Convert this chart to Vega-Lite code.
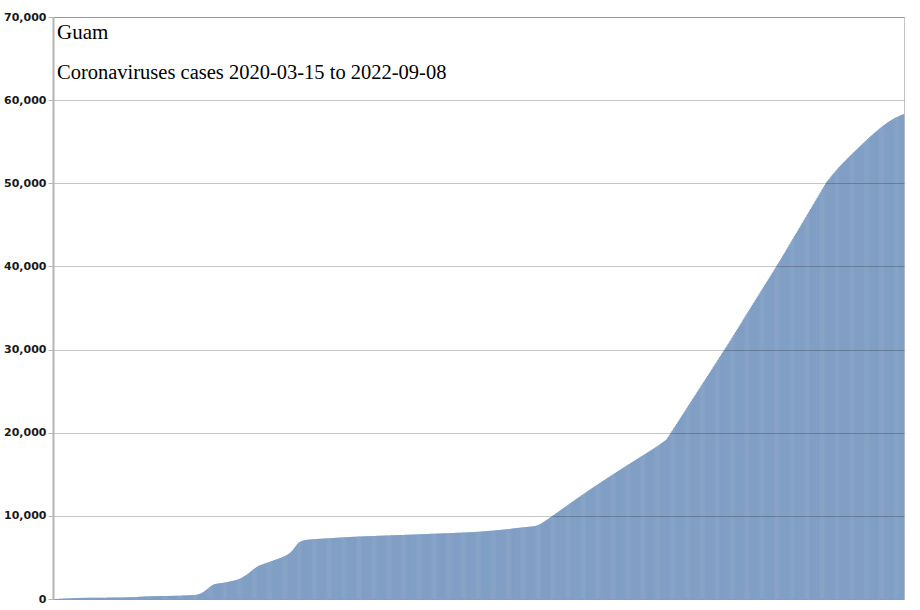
{
"$schema": "https://vega.github.io/schema/vega-lite/v6.json",
"width": 851,
"height": 582,
"autosize": {"type": "none"},
"padding": {"left": 53, "top": 17, "right": 16, "bottom": 11},
"background": "white",
"title": {"text": "Guam", "subtitle": "Coronaviruses cases 2020-03-15 to 2022-09-08", "anchor": "start", "frame": "group", "orient": "top", "offset": -72, "dx": 4, "font": "Liberation Serif", "fontSize": 21, "fontWeight": "normal", "color": "#000", "subtitleFont": "Liberation Serif", "subtitleFontSize": 20.5, "subtitleColor": "#000", "subtitlePadding": 20},
"data": {"values": [
{"d":0,"c":3},{"d":1,"c":5},{"d":2,"c":5},{"d":3,"c":12},{"d":4,"c":14},{"d":5,"c":15},{"d":6,"c":27},{"d":7,"c":29},{"d":8,"c":32},{"d":9,"c":37},
{"d":10,"c":45},{"d":11,"c":49},{"d":12,"c":51},{"d":13,"c":55},{"d":14,"c":56},{"d":15,"c":58},{"d":16,"c":69},{"d":17,"c":77},{"d":18,"c":82},{"d":19,"c":84},
{"d":20,"c":93},{"d":21,"c":110},{"d":22,"c":112},{"d":23,"c":113},{"d":24,"c":121},{"d":25,"c":122},{"d":26,"c":128},{"d":27,"c":130},{"d":28,"c":133},{"d":29,"c":133},
{"d":30,"c":135},{"d":31,"c":136},{"d":32,"c":136},{"d":33,"c":136},{"d":34,"c":137},{"d":35,"c":138},{"d":36,"c":141},{"d":37,"c":142},{"d":38,"c":145},{"d":39,"c":145},
{"d":40,"c":145},{"d":41,"c":145},{"d":42,"c":145},{"d":43,"c":148},{"d":44,"c":149},{"d":45,"c":149},{"d":46,"c":149},{"d":47,"c":150},{"d":48,"c":151},{"d":49,"c":151},
{"d":50,"c":151},{"d":51,"c":152},{"d":52,"c":154},{"d":53,"c":154},{"d":54,"c":157},{"d":55,"c":158},{"d":56,"c":161},{"d":57,"c":165},{"d":58,"c":166},{"d":59,"c":167},
{"d":60,"c":168},{"d":61,"c":169},{"d":62,"c":171},{"d":63,"c":172},{"d":64,"c":174},{"d":65,"c":175},{"d":66,"c":177},{"d":67,"c":179},{"d":68,"c":180},{"d":69,"c":182},
{"d":70,"c":183},{"d":71,"c":185},{"d":72,"c":186},{"d":73,"c":188},{"d":74,"c":190},{"d":75,"c":192},{"d":76,"c":194},{"d":77,"c":197},{"d":78,"c":200},{"d":79,"c":203},
{"d":80,"c":206},{"d":81,"c":210},{"d":82,"c":214},{"d":83,"c":218},{"d":84,"c":222},{"d":85,"c":226},{"d":86,"c":230},{"d":87,"c":235},{"d":88,"c":240},{"d":89,"c":247},
{"d":90,"c":253},{"d":91,"c":259},{"d":92,"c":266},{"d":93,"c":271},{"d":94,"c":277},{"d":95,"c":284},{"d":96,"c":290},{"d":97,"c":296},{"d":98,"c":302},{"d":99,"c":307},
{"d":100,"c":311},{"d":101,"c":314},{"d":102,"c":318},{"d":103,"c":322},{"d":104,"c":326},{"d":105,"c":330},{"d":106,"c":333},{"d":107,"c":336},{"d":108,"c":338},{"d":109,"c":340},
{"d":110,"c":341},{"d":111,"c":343},{"d":112,"c":345},{"d":113,"c":348},{"d":114,"c":350},{"d":115,"c":352},{"d":116,"c":354},{"d":117,"c":356},{"d":118,"c":358},{"d":119,"c":360},
{"d":120,"c":363},{"d":121,"c":365},{"d":122,"c":368},{"d":123,"c":370},{"d":124,"c":373},{"d":125,"c":375},{"d":126,"c":377},{"d":127,"c":380},{"d":128,"c":382},{"d":129,"c":385},
{"d":130,"c":387},{"d":131,"c":390},{"d":132,"c":392},{"d":133,"c":395},{"d":134,"c":398},{"d":135,"c":401},{"d":136,"c":405},{"d":137,"c":409},{"d":138,"c":413},{"d":139,"c":418},
{"d":140,"c":423},{"d":141,"c":428},{"d":142,"c":433},{"d":143,"c":438},{"d":144,"c":443},{"d":145,"c":448},{"d":146,"c":453},{"d":147,"c":458},{"d":148,"c":462},{"d":149,"c":466},
{"d":150,"c":470},{"d":151,"c":485},{"d":152,"c":500},{"d":153,"c":520},{"d":154,"c":545},{"d":155,"c":575},{"d":156,"c":610},{"d":157,"c":650},{"d":158,"c":700},{"d":159,"c":760},
{"d":160,"c":830},{"d":161,"c":910},{"d":162,"c":1000},{"d":163,"c":1090},{"d":164,"c":1180},{"d":165,"c":1270},{"d":166,"c":1360},{"d":167,"c":1450},{"d":168,"c":1540},{"d":169,"c":1620},
{"d":170,"c":1690},{"d":171,"c":1740},{"d":172,"c":1780},{"d":173,"c":1810},{"d":174,"c":1830},{"d":175,"c":1850},{"d":176,"c":1865},{"d":177,"c":1880},{"d":178,"c":1895},{"d":179,"c":1910},
{"d":180,"c":1925},{"d":181,"c":1940},{"d":182,"c":1960},{"d":183,"c":1980},{"d":184,"c":2000},{"d":185,"c":2020},{"d":186,"c":2045},{"d":187,"c":2070},{"d":188,"c":2095},{"d":189,"c":2120},
{"d":190,"c":2145},{"d":191,"c":2170},{"d":192,"c":2195},{"d":193,"c":2220},{"d":194,"c":2250},{"d":195,"c":2280},{"d":196,"c":2310},{"d":197,"c":2350},{"d":198,"c":2395},{"d":199,"c":2445},
{"d":200,"c":2500},{"d":201,"c":2560},{"d":202,"c":2620},{"d":203,"c":2690},{"d":204,"c":2760},{"d":205,"c":2830},{"d":206,"c":2900},{"d":207,"c":2975},{"d":208,"c":3060},{"d":209,"c":3150},
{"d":210,"c":3240},{"d":211,"c":3330},{"d":212,"c":3420},{"d":213,"c":3510},{"d":214,"c":3600},{"d":215,"c":3690},{"d":216,"c":3770},{"d":217,"c":3850},{"d":218,"c":3920},{"d":219,"c":3980},
{"d":220,"c":4030},{"d":221,"c":4080},{"d":222,"c":4120},{"d":223,"c":4160},{"d":224,"c":4200},{"d":225,"c":4240},{"d":226,"c":4280},{"d":227,"c":4320},{"d":228,"c":4360},{"d":229,"c":4400},
{"d":230,"c":4440},{"d":231,"c":4480},{"d":232,"c":4520},{"d":233,"c":4560},{"d":234,"c":4600},{"d":235,"c":4640},{"d":236,"c":4680},{"d":237,"c":4720},{"d":238,"c":4760},{"d":239,"c":4800},
{"d":240,"c":4840},{"d":241,"c":4880},{"d":242,"c":4925},{"d":243,"c":4970},{"d":244,"c":5020},{"d":245,"c":5070},{"d":246,"c":5120},{"d":247,"c":5175},{"d":248,"c":5230},{"d":249,"c":5290},
{"d":250,"c":5350},{"d":251,"c":5420},{"d":252,"c":5500},{"d":253,"c":5600},{"d":254,"c":5710},{"d":255,"c":5830},{"d":256,"c":5960},{"d":257,"c":6100},{"d":258,"c":6250},{"d":259,"c":6400},
{"d":260,"c":6550},{"d":261,"c":6680},{"d":262,"c":6790},{"d":263,"c":6870},{"d":264,"c":6930},{"d":265,"c":6980},{"d":266,"c":7020},{"d":267,"c":7050},{"d":268,"c":7075},{"d":269,"c":7095},
{"d":270,"c":7110},{"d":271,"c":7122},{"d":272,"c":7133},{"d":273,"c":7144},{"d":274,"c":7154},{"d":275,"c":7164},{"d":276,"c":7173},{"d":277,"c":7182},{"d":278,"c":7190},{"d":279,"c":7198},
{"d":280,"c":7206},{"d":281,"c":7214},{"d":282,"c":7222},{"d":283,"c":7229},{"d":284,"c":7236},{"d":285,"c":7243},{"d":286,"c":7250},{"d":287,"c":7257},{"d":288,"c":7264},{"d":289,"c":7271},
{"d":290,"c":7278},{"d":291,"c":7285},{"d":292,"c":7292},{"d":293,"c":7299},{"d":294,"c":7306},{"d":295,"c":7313},{"d":296,"c":7320},{"d":297,"c":7327},{"d":298,"c":7334},{"d":299,"c":7341},
{"d":300,"c":7348},{"d":301,"c":7355},{"d":302,"c":7362},{"d":303,"c":7369},{"d":304,"c":7376},{"d":305,"c":7383},{"d":306,"c":7390},{"d":307,"c":7397},{"d":308,"c":7404},{"d":309,"c":7411},
{"d":310,"c":7418},{"d":311,"c":7425},{"d":312,"c":7432},{"d":313,"c":7439},{"d":314,"c":7446},{"d":315,"c":7452},{"d":316,"c":7458},{"d":317,"c":7464},{"d":318,"c":7470},{"d":319,"c":7476},
{"d":320,"c":7481},{"d":321,"c":7486},{"d":322,"c":7491},{"d":323,"c":7496},{"d":324,"c":7501},{"d":325,"c":7506},{"d":326,"c":7511},{"d":327,"c":7516},{"d":328,"c":7521},{"d":329,"c":7526},
{"d":330,"c":7531},{"d":331,"c":7536},{"d":332,"c":7541},{"d":333,"c":7546},{"d":334,"c":7550},{"d":335,"c":7554},{"d":336,"c":7558},{"d":337,"c":7562},{"d":338,"c":7566},{"d":339,"c":7570},
{"d":340,"c":7574},{"d":341,"c":7578},{"d":342,"c":7582},{"d":343,"c":7586},{"d":344,"c":7590},{"d":345,"c":7594},{"d":346,"c":7598},{"d":347,"c":7602},{"d":348,"c":7606},{"d":349,"c":7610},
{"d":350,"c":7614},{"d":351,"c":7618},{"d":352,"c":7622},{"d":353,"c":7626},{"d":354,"c":7630},{"d":355,"c":7634},{"d":356,"c":7638},{"d":357,"c":7642},{"d":358,"c":7646},{"d":359,"c":7650},
{"d":360,"c":7654},{"d":361,"c":7658},{"d":362,"c":7662},{"d":363,"c":7666},{"d":364,"c":7670},{"d":365,"c":7674},{"d":366,"c":7678},{"d":367,"c":7682},{"d":368,"c":7686},{"d":369,"c":7690},
{"d":370,"c":7694},{"d":371,"c":7698},{"d":372,"c":7702},{"d":373,"c":7706},{"d":374,"c":7710},{"d":375,"c":7714},{"d":376,"c":7718},{"d":377,"c":7722},{"d":378,"c":7726},{"d":379,"c":7730},
{"d":380,"c":7734},{"d":381,"c":7738},{"d":382,"c":7742},{"d":383,"c":7746},{"d":384,"c":7750},{"d":385,"c":7754},{"d":386,"c":7758},{"d":387,"c":7762},{"d":388,"c":7766},{"d":389,"c":7770},
{"d":390,"c":7775},{"d":391,"c":7780},{"d":392,"c":7785},{"d":393,"c":7790},{"d":394,"c":7795},{"d":395,"c":7800},{"d":396,"c":7805},{"d":397,"c":7810},{"d":398,"c":7815},{"d":399,"c":7820},
{"d":400,"c":7824},{"d":401,"c":7829},{"d":402,"c":7833},{"d":403,"c":7838},{"d":404,"c":7842},{"d":405,"c":7847},{"d":406,"c":7851},{"d":407,"c":7856},{"d":408,"c":7860},{"d":409,"c":7865},
{"d":410,"c":7869},{"d":411,"c":7874},{"d":412,"c":7878},{"d":413,"c":7883},{"d":414,"c":7887},{"d":415,"c":7892},{"d":416,"c":7896},{"d":417,"c":7901},{"d":418,"c":7905},{"d":419,"c":7910},
{"d":420,"c":7914},{"d":421,"c":7919},{"d":422,"c":7923},{"d":423,"c":7928},{"d":424,"c":7932},{"d":425,"c":7937},{"d":426,"c":7941},{"d":427,"c":7946},{"d":428,"c":7950},{"d":429,"c":7955},
{"d":430,"c":7959},{"d":431,"c":7964},{"d":432,"c":7968},{"d":433,"c":7973},{"d":434,"c":7977},{"d":435,"c":7982},{"d":436,"c":7986},{"d":437,"c":7991},{"d":438,"c":7995},{"d":439,"c":8000},
{"d":440,"c":8005},{"d":441,"c":8010},{"d":442,"c":8015},{"d":443,"c":8020},{"d":444,"c":8025},{"d":445,"c":8030},{"d":446,"c":8035},{"d":447,"c":8040},{"d":448,"c":8046},{"d":449,"c":8052},
{"d":450,"c":8060},{"d":451,"c":8068},{"d":452,"c":8076},{"d":453,"c":8085},{"d":454,"c":8094},{"d":455,"c":8103},{"d":456,"c":8112},{"d":457,"c":8121},{"d":458,"c":8130},{"d":459,"c":8139},
{"d":460,"c":8148},{"d":461,"c":8157},{"d":462,"c":8166},{"d":463,"c":8175},{"d":464,"c":8184},{"d":465,"c":8193},{"d":466,"c":8202},{"d":467,"c":8211},{"d":468,"c":8220},{"d":469,"c":8229},
{"d":470,"c":8238},{"d":471,"c":8248},{"d":472,"c":8258},{"d":473,"c":8268},{"d":474,"c":8278},{"d":475,"c":8288},{"d":476,"c":8298},{"d":477,"c":8308},{"d":478,"c":8318},{"d":479,"c":8328},
{"d":480,"c":8340},{"d":481,"c":8352},{"d":482,"c":8365},{"d":483,"c":8378},{"d":484,"c":8392},{"d":485,"c":8406},{"d":486,"c":8420},{"d":487,"c":8434},{"d":488,"c":8448},{"d":489,"c":8462},
{"d":490,"c":8476},{"d":491,"c":8490},{"d":492,"c":8503},{"d":493,"c":8516},{"d":494,"c":8529},{"d":495,"c":8542},{"d":496,"c":8555},{"d":497,"c":8568},{"d":498,"c":8580},{"d":499,"c":8592},
{"d":500,"c":8604},{"d":501,"c":8616},{"d":502,"c":8628},{"d":503,"c":8640},{"d":504,"c":8652},{"d":505,"c":8663},{"d":506,"c":8674},{"d":507,"c":8685},{"d":508,"c":8696},{"d":509,"c":8707},
{"d":510,"c":8718},{"d":511,"c":8730},{"d":512,"c":8745},{"d":513,"c":8765},{"d":514,"c":8790},{"d":515,"c":8820},{"d":516,"c":8855},{"d":517,"c":8895},{"d":518,"c":8940},{"d":519,"c":8990},
{"d":520,"c":9050},{"d":521,"c":9115},{"d":522,"c":9185},{"d":523,"c":9260},{"d":524,"c":9335},{"d":525,"c":9410},{"d":526,"c":9485},{"d":527,"c":9560},{"d":528,"c":9635},{"d":529,"c":9710},
{"d":530,"c":9790},{"d":531,"c":9870},{"d":532,"c":9950},{"d":533,"c":10030},{"d":534,"c":10110},{"d":535,"c":10190},{"d":536,"c":10270},{"d":537,"c":10350},{"d":538,"c":10430},{"d":539,"c":10510},
{"d":540,"c":10590},{"d":541,"c":10670},{"d":542,"c":10750},{"d":543,"c":10830},{"d":544,"c":10910},{"d":545,"c":10990},{"d":546,"c":11070},{"d":547,"c":11150},{"d":548,"c":11230},{"d":549,"c":11310},
{"d":550,"c":11390},{"d":551,"c":11470},{"d":552,"c":11550},{"d":553,"c":11630},{"d":554,"c":11710},{"d":555,"c":11790},{"d":556,"c":11870},{"d":557,"c":11950},{"d":558,"c":12030},{"d":559,"c":12108},
{"d":560,"c":12186},{"d":561,"c":12264},{"d":562,"c":12342},{"d":563,"c":12420},{"d":564,"c":12498},{"d":565,"c":12576},{"d":566,"c":12654},{"d":567,"c":12732},{"d":568,"c":12810},{"d":569,"c":12888},
{"d":570,"c":12964},{"d":571,"c":13040},{"d":572,"c":13116},{"d":573,"c":13192},{"d":574,"c":13268},{"d":575,"c":13344},{"d":576,"c":13420},{"d":577,"c":13495},{"d":578,"c":13570},{"d":579,"c":13645},
{"d":580,"c":13720},{"d":581,"c":13795},{"d":582,"c":13870},{"d":583,"c":13945},{"d":584,"c":14020},{"d":585,"c":14094},{"d":586,"c":14168},{"d":587,"c":14242},{"d":588,"c":14316},{"d":589,"c":14390},
{"d":590,"c":14464},{"d":591,"c":14538},{"d":592,"c":14612},{"d":593,"c":14686},{"d":594,"c":14760},{"d":595,"c":14833},{"d":596,"c":14906},{"d":597,"c":14979},{"d":598,"c":15052},{"d":599,"c":15125},
{"d":600,"c":15198},{"d":601,"c":15271},{"d":602,"c":15344},{"d":603,"c":15417},{"d":604,"c":15490},{"d":605,"c":15562},{"d":606,"c":15634},{"d":607,"c":15706},{"d":608,"c":15778},{"d":609,"c":15850},
{"d":610,"c":15921},{"d":611,"c":15992},{"d":612,"c":16063},{"d":613,"c":16134},{"d":614,"c":16205},{"d":615,"c":16276},{"d":616,"c":16347},{"d":617,"c":16418},{"d":618,"c":16489},{"d":619,"c":16560},
{"d":620,"c":16631},{"d":621,"c":16702},{"d":622,"c":16773},{"d":623,"c":16844},{"d":624,"c":16915},{"d":625,"c":16986},{"d":626,"c":17057},{"d":627,"c":17128},{"d":628,"c":17199},{"d":629,"c":17270},
{"d":630,"c":17341},{"d":631,"c":17412},{"d":632,"c":17483},{"d":633,"c":17554},{"d":634,"c":17625},{"d":635,"c":17696},{"d":636,"c":17767},{"d":637,"c":17838},{"d":638,"c":17909},{"d":639,"c":17980},
{"d":640,"c":18052},{"d":641,"c":18125},{"d":642,"c":18199},{"d":643,"c":18274},{"d":644,"c":18350},{"d":645,"c":18427},{"d":646,"c":18505},{"d":647,"c":18584},{"d":648,"c":18664},{"d":649,"c":18745},
{"d":650,"c":18827},{"d":651,"c":18910},{"d":652,"c":18994},{"d":653,"c":19079},{"d":654,"c":19165},{"d":655,"c":19310},{"d":656,"c":19480},{"d":657,"c":19650},{"d":658,"c":19820},{"d":659,"c":19995},
{"d":660,"c":20170},{"d":661,"c":20340},{"d":662,"c":20525},{"d":663,"c":20690},{"d":664,"c":20880},{"d":665,"c":21040},{"d":666,"c":21230},{"d":667,"c":21390},{"d":668,"c":21575},{"d":669,"c":21740},
{"d":670,"c":21920},{"d":671,"c":22095},{"d":672,"c":22270},{"d":673,"c":22445},{"d":674,"c":22620},{"d":675,"c":22795},{"d":676,"c":22970},{"d":677,"c":23145},{"d":678,"c":23320},{"d":679,"c":23495},
{"d":680,"c":23670},{"d":681,"c":23845},{"d":682,"c":24020},{"d":683,"c":24195},{"d":684,"c":24370},{"d":685,"c":24545},{"d":686,"c":24720},{"d":687,"c":24895},{"d":688,"c":25070},{"d":689,"c":25245},
{"d":690,"c":25420},{"d":691,"c":25595},{"d":692,"c":25770},{"d":693,"c":25945},{"d":694,"c":26120},{"d":695,"c":26295},{"d":696,"c":26470},{"d":697,"c":26645},{"d":698,"c":26820},{"d":699,"c":26995},
{"d":700,"c":27170},{"d":701,"c":27345},{"d":702,"c":27520},{"d":703,"c":27695},{"d":704,"c":27870},{"d":705,"c":28045},{"d":706,"c":28220},{"d":707,"c":28395},{"d":708,"c":28570},{"d":709,"c":28745},
{"d":710,"c":28920},{"d":711,"c":29095},{"d":712,"c":29270},{"d":713,"c":29445},{"d":714,"c":29620},{"d":715,"c":29795},{"d":716,"c":29970},{"d":717,"c":30145},{"d":718,"c":30320},{"d":719,"c":30495},
{"d":720,"c":30676},{"d":721,"c":30857},{"d":722,"c":31038},{"d":723,"c":31219},{"d":724,"c":31400},{"d":725,"c":31581},{"d":726,"c":31762},{"d":727,"c":31943},{"d":728,"c":32124},{"d":729,"c":32305},
{"d":730,"c":32486},{"d":731,"c":32667},{"d":732,"c":32848},{"d":733,"c":33029},{"d":734,"c":33210},{"d":735,"c":33391},{"d":736,"c":33572},{"d":737,"c":33753},{"d":738,"c":33934},{"d":739,"c":34115},
{"d":740,"c":34296},{"d":741,"c":34477},{"d":742,"c":34658},{"d":743,"c":34839},{"d":744,"c":35020},{"d":745,"c":35201},{"d":746,"c":35382},{"d":747,"c":35563},{"d":748,"c":35744},{"d":749,"c":35925},
{"d":750,"c":36106},{"d":751,"c":36287},{"d":752,"c":36468},{"d":753,"c":36649},{"d":754,"c":36830},{"d":755,"c":37011},{"d":756,"c":37192},{"d":757,"c":37373},{"d":758,"c":37554},{"d":759,"c":37735},
{"d":760,"c":37916},{"d":761,"c":38097},{"d":762,"c":38278},{"d":763,"c":38459},{"d":764,"c":38640},{"d":765,"c":38821},{"d":766,"c":39002},{"d":767,"c":39183},{"d":768,"c":39364},{"d":769,"c":39545},
{"d":770,"c":39730},{"d":771,"c":39915},{"d":772,"c":40100},{"d":773,"c":40285},{"d":774,"c":40470},{"d":775,"c":40655},{"d":776,"c":40840},{"d":777,"c":41025},{"d":778,"c":41210},{"d":779,"c":41395},
{"d":780,"c":41585},{"d":781,"c":41775},{"d":782,"c":41965},{"d":783,"c":42155},{"d":784,"c":42345},{"d":785,"c":42535},{"d":786,"c":42725},{"d":787,"c":42915},{"d":788,"c":43105},{"d":789,"c":43295},
{"d":790,"c":43485},{"d":791,"c":43675},{"d":792,"c":43865},{"d":793,"c":44055},{"d":794,"c":44245},{"d":795,"c":44435},{"d":796,"c":44625},{"d":797,"c":44815},{"d":798,"c":45005},{"d":799,"c":45195},
{"d":800,"c":45385},{"d":801,"c":45575},{"d":802,"c":45765},{"d":803,"c":45955},{"d":804,"c":46145},{"d":805,"c":46335},{"d":806,"c":46525},{"d":807,"c":46715},{"d":808,"c":46905},{"d":809,"c":47095},
{"d":810,"c":47285},{"d":811,"c":47475},{"d":812,"c":47665},{"d":813,"c":47855},{"d":814,"c":48045},{"d":815,"c":48235},{"d":816,"c":48425},{"d":817,"c":48615},{"d":818,"c":48805},{"d":819,"c":48995},
{"d":820,"c":49185},{"d":821,"c":49375},{"d":822,"c":49565},{"d":823,"c":49755},{"d":824,"c":49945},{"d":825,"c":50120},{"d":826,"c":50268},{"d":827,"c":50414},{"d":828,"c":50558},{"d":829,"c":50700},
{"d":830,"c":50840},{"d":831,"c":50978},{"d":832,"c":51114},{"d":833,"c":51248},{"d":834,"c":51380},{"d":835,"c":51510},{"d":836,"c":51638},{"d":837,"c":51764},{"d":838,"c":51888},{"d":839,"c":52010},
{"d":840,"c":52130},{"d":841,"c":52250},{"d":842,"c":52369},{"d":843,"c":52487},{"d":844,"c":52604},{"d":845,"c":52720},{"d":846,"c":52835},{"d":847,"c":52949},{"d":848,"c":53062},{"d":849,"c":53174},
{"d":850,"c":53285},{"d":851,"c":53395},{"d":852,"c":53504},{"d":853,"c":53612},{"d":854,"c":53719},{"d":855,"c":53828},{"d":856,"c":53937},{"d":857,"c":54046},{"d":858,"c":54155},{"d":859,"c":54264},
{"d":860,"c":54373},{"d":861,"c":54482},{"d":862,"c":54590},{"d":863,"c":54698},{"d":864,"c":54805},{"d":865,"c":54912},{"d":866,"c":55018},{"d":867,"c":55124},{"d":868,"c":55229},{"d":869,"c":55334},
{"d":870,"c":55438},{"d":871,"c":55541},{"d":872,"c":55643},{"d":873,"c":55744},{"d":874,"c":55844},{"d":875,"c":55943},{"d":876,"c":56041},{"d":877,"c":56138},{"d":878,"c":56234},{"d":879,"c":56329},
{"d":880,"c":56423},{"d":881,"c":56516},{"d":882,"c":56608},{"d":883,"c":56699},{"d":884,"c":56789},{"d":885,"c":56878},{"d":886,"c":56966},{"d":887,"c":57053},{"d":888,"c":57139},{"d":889,"c":57224},
{"d":890,"c":57300},{"d":891,"c":57375},{"d":892,"c":57448},{"d":893,"c":57519},{"d":894,"c":57588},{"d":895,"c":57655},{"d":896,"c":57720},{"d":897,"c":57783},{"d":898,"c":57844},{"d":899,"c":57903},
{"d":900,"c":57960},{"d":901,"c":58015},{"d":902,"c":58068},{"d":903,"c":58119},{"d":904,"c":58168},{"d":905,"c":58215},{"d":906,"c":58260},{"d":907,"c":58303}
]},
"mark": {"type": "bar", "color": "#819fc4", "width": {"band": 1.6}},
"encoding": {
  "x": {"field": "d", "type": "ordinal", "axis": null, "scale": {"paddingInner": 0, "paddingOuter": 0}},
  "y": {"field": "c", "type": "quantitative", "scale": {"domain": [0, 70000]},
        "axis": {"title": null, "values": [0, 10000, 20000, 30000, 40000, 50000, 60000, 70000], "format": ",d", "labelFont": "DejaVu Sans", "labelFontSize": 11, "labelFontWeight": "bold", "labelColor": "#1a1a1a", "labelPadding": 2, "grid": true, "gridColor": "#000000", "gridOpacity": 0.22, "gridWidth": 1, "zindex": 1, "domainColor": "#b4b4b4", "domainWidth": 2, "tickColor": "#b4b4b4", "tickSize": 5}}
},
"config": {"view": {"stroke": "#c4c4c4", "strokeWidth": 1}}
}
